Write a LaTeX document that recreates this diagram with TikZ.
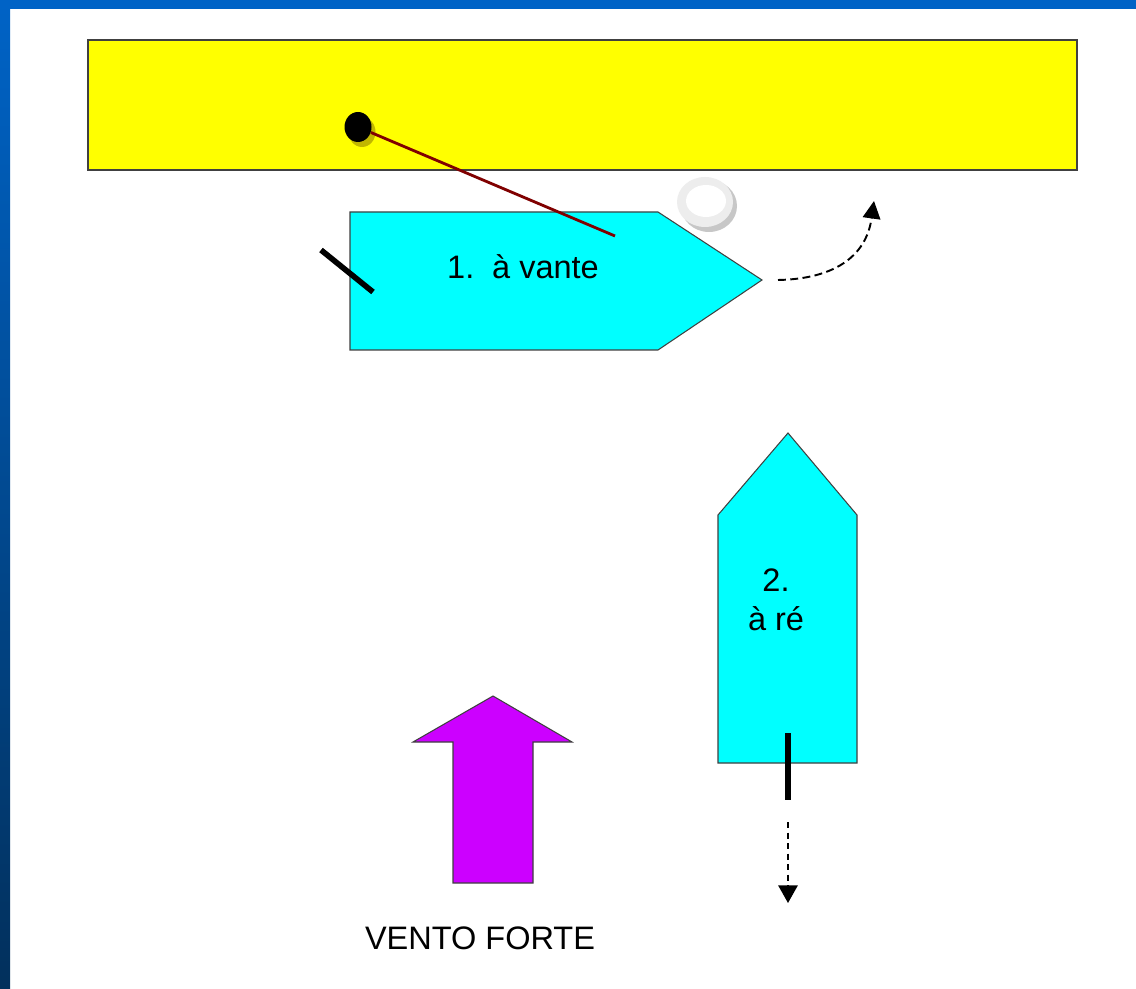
\documentclass[tikz,border=0pt]{standalone}
\usepackage{fontspec}
\setmainfont{Liberation Sans}
\usetikzlibrary{arrows.meta,shapes.geometric,positioning}
\definecolor{slideblue}{HTML}{0063C6}
\definecolor{slidedark}{HTML}{02305C}
\definecolor{quayyellow}{HTML}{FFFF00}
\definecolor{hullcyan}{HTML}{00FFFF}
\definecolor{windpurple}{HTML}{CC00FF}
\definecolor{ropered}{HTML}{800000}
\tikzset{
    outline/.style={draw=black!75, line width=0.6pt},
    hull/.style={outline, fill=hullcyan},
    boattext/.style={font=\fontsize{18.5}{22}\selectfont, inner sep=0pt, align=center},
    rudder/.style={line width=3.2pt, black},
    rope/.style={line width=1.6pt, ropered},
    move/.style={dashed, dash pattern=on 4.5pt off 2.5pt, line width=1.1pt,
        -{Triangle[width=10pt,length=10pt]}}
}

\begin{document}
\begin{tikzpicture}[x=0.02cm, y=-0.02cm]
    \useasboundingbox (0,0) rectangle (1136,989);
    \fill[white] (0,0) rectangle (1136,989);
    % slide frame
    \fill[top color=slideblue, bottom color=slidedark] (0,0) rectangle (10,989);
    \fill[slideblue] (0,0) rectangle (1136,9);
    % quay
    \draw[outline, fill=quayyellow] (88,40) rectangle (1077,170);
    \fill[olive!55!yellow] (362,132) ellipse [x radius=13.5, y radius=15];
    \node[ellipse, fill=black, minimum width=0.54cm, minimum height=0.6cm,
        inner sep=0pt] (bollard) at (358,127) {};
    % Draw boat 1 (bow to the right)
    \draw[hull] (350,212) -- (658,212) -- (762,280) -- (658,350) -- (350,350) -- cycle;
    \node[boattext] (boatone) at (523,267) {1.\hspace{0.55em}à vante};
    % fender
    \fill[black!22] (709,206) ellipse [x radius=28, y radius=26];
    \fill[black!7] (705,202) ellipse [x radius=28, y radius=25];
    \fill[white] (706,201) ellipse [x radius=20, y radius=16];
    % mooring line
    \coordinate (cleat) at (615,236);
    \draw[rope] (bollard) -- (cleat);
    \draw[rudder] (321,250) -- (373,292);
    \coordinate (turnstart) at (778,280);
    \coordinate (turnend) at (874,201);
    \draw[move] (turnstart) .. controls (832,279) and (866,258) .. (turnend);
    % Draw boat 2 (bow up)
    \draw[hull] (718,515) -- (788,433) -- (857,515) -- (857,763) -- (718,763) -- cycle;
    \node[boattext] (boattwo) at (776,600) {2.\\à ré};
    \draw[rudder, line width=3.8pt] (788,733) -- (788,800);
    \coordinate (backstart) at (788,822);
    \coordinate (backend) at (788,903);
    \draw[move, line width=0.9pt, dash pattern=on 3.5pt off 2.5pt,
        -{Triangle[width=11pt,length=10pt]}] (backstart) -- (backend);
    % wind
    \draw[outline, fill=windpurple] (413,742) -- (493,696) -- (572,742) -- (533,742)
        -- (533,883) -- (453,883) -- (453,742) -- cycle;
    \node[boattext] (wind) at (480,938) {VENTO FORTE};
\end{tikzpicture}
\end{document}
